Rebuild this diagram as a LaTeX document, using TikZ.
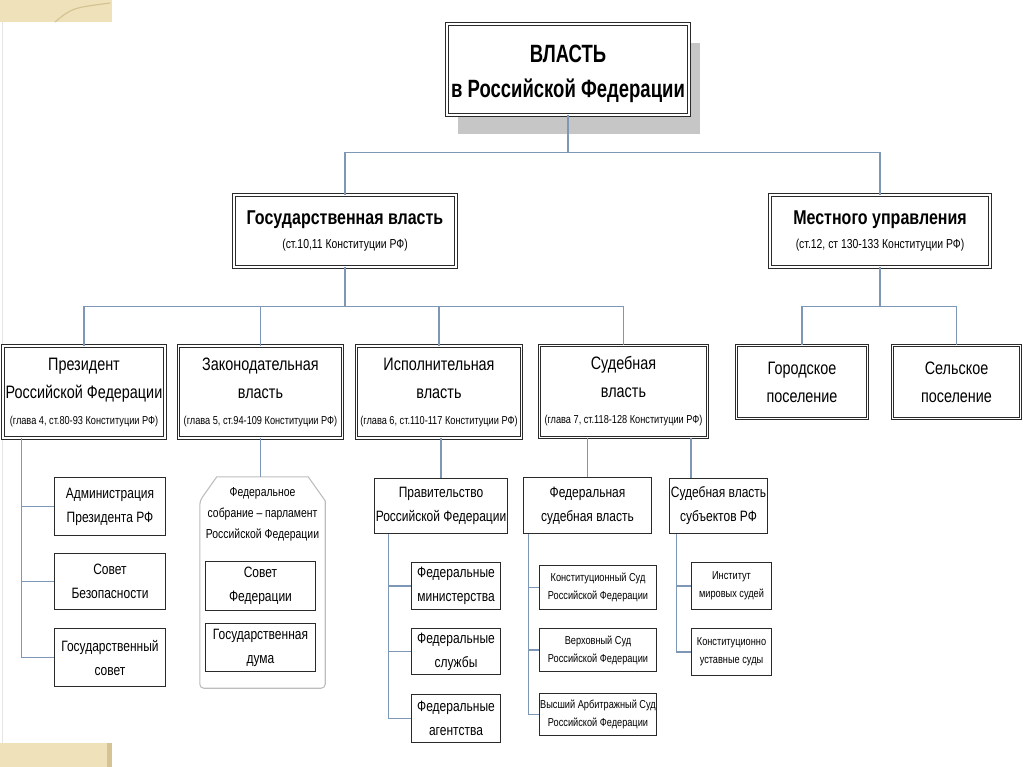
\documentclass[tikz,border=0pt]{standalone}
\usepackage{fontspec}
\setmainfont{Liberation Sans}[FakeStretch=0.8]
\newfontfamily\narrowfont{Liberation Sans}[FakeStretch=0.74]
\usetikzlibrary{calc,shadows}
\definecolor{linkcol}{HTML}{7F97B6}
\definecolor{boxcol}{HTML}{2A2A2A}
\definecolor{shadowcol}{HTML}{C6C6C6}
\definecolor{fedcol}{HTML}{BDBDBD}
\definecolor{beige}{HTML}{EFE2BA}
\definecolor{beigedark}{HTML}{D6C393}
\newcommand{\artref}[1]{{\fontsize{11.5}{13}\selectfont\mdseries #1}}
\newcommand{\bigartref}[1]{{\fontsize{13}{15}\selectfont\mdseries #1}}
\tikzset{
	link/.style={draw=linkcol, line width=1.1pt},
	dbox/.style={draw=boxcol, line width=0.9pt, double=white, double distance=1.6pt, fill=white, inner sep=0pt, align=center},
	sbox/.style={draw=boxcol, line width=1.1pt, fill=white, inner sep=0pt, align=center},
	topfont/.style={font=\narrowfont\fontsize{25}{35}\selectfont\bfseries},
	headfont/.style={font=\fontsize{20}{27}\selectfont\bfseries},
	midfont/.style={font=\fontsize{18}{28}\selectfont},
	lowfont/.style={font=\fontsize{15}{24}\selectfont},
	tinyfont/.style={font=\fontsize{11.5}{18}\selectfont},
}
\begin{document}
\begin{tikzpicture}[x=1pt,y=-1pt]
	\useasboundingbox (0,0) rectangle (1024,767);
	
	%CORNERS
	\fill[beige] (0,0) rectangle (112,22);
	\draw[beigedark, line width=1.2pt] (55,22) .. controls (72,8) .. (110,3);
	\fill[beige] (0,743) rectangle (112,767);
	\fill[beigedark] (107,743) rectangle (112,767);
	\draw[gray!20] (2,22)--(2,743);
	
	%TOP
	\node[dbox, topfont, minimum width=242, minimum height=91,
		drop shadow={shadow xshift=11pt, shadow yshift=-19pt, fill=shadowcol, opacity=1}]
		(top) at (568,69.5) {\rule{0pt}{27pt}ВЛАСТЬ\\в Российской Федерации};
	
	%LEVEL 2
	\node[dbox, headfont, minimum width=222, minimum height=72] (gos) at (345,231)
		{Государственная власть\\[-3pt]\bigartref{(ст.10,11 Конституции РФ)}};
	\node[dbox, headfont, minimum width=220, minimum height=72] (mest) at (880,231)
		{Местного управления\\[-3pt]\bigartref{(ст.12, ст 130-133 Конституции РФ)}};
	
	%LEVEL 3
	\node[dbox, midfont, minimum width=162, minimum height=92] (pres) at (84,392)
		{Президент\\Российской Федерации\\[-2pt]\artref{(глава 4, ст.80-93 Конституции РФ)}};
	\node[dbox, midfont, minimum width=164, minimum height=92] (zak) at (260.5,392)
		{Законодательная\\власть\\[-2pt]\artref{(глава 5, ст.94-109 Конституции РФ)}};
	\node[dbox, midfont, minimum width=165, minimum height=92] (isp) at (439,392)
		{Исполнительная\\власть\\[-2pt]\artref{(глава 6, ст.110-117 Конституции РФ)}};
	\node[dbox, midfont, minimum width=168, minimum height=92] (sud) at (623.5,391.5)
		{Судебная\\власть\\[-2pt]\artref{(глава 7, ст.118-128 Конституции РФ)}};
	\node[dbox, midfont, minimum width=131, minimum height=73] (gor) at (802,382) {Городское\\поселение};
	\node[dbox, midfont, minimum width=128, minimum height=73] (sel) at (956.5,382) {Сельское\\поселение};
	
	%PRESIDENT
	\node[sbox, lowfont, minimum width=111, minimum height=58] (adm) at (110,506.5) {Администрация\\Президента РФ};
	\node[sbox, lowfont, minimum width=111, minimum height=56] (sov) at (110,581.5) {Совет\\Безопасности};
	\node[sbox, lowfont, minimum width=111, minimum height=58] (gsov) at (110,657.5) {Государственный\\совет};
	
	%FEDERAL ASSEMBLY
	\node[minimum width=125, minimum height=211, inner sep=0pt] (fed) at (262.5,582.5) {};
	\draw[fedcol, line width=1.1pt, rounded corners=4pt]
		($(fed.north west)+(0,24)$) [sharp corners]-- ($(fed.north west)+(17,0)$) -- ($(fed.north east)+(-17,0)$)
		-- ($(fed.north east)+(0,24)$) [rounded corners=4pt]-- (fed.south east) -- (fed.south west) -- cycle;
	\node[font=\fontsize{13}{21}\selectfont, align=center] (fedtxt) at (262.5,514)
		{Федеральное\\собрание – парламент\\Российской Федерации};
	\node[sbox, lowfont, minimum width=110, minimum height=49] (sf) at (260.5,586) {Совет\\Федерации};
	\node[sbox, lowfont, minimum width=110, minimum height=48] (gd) at (260.5,647.5) {Государственная\\дума};
	
	%GOVERNMENT
	\node[sbox, lowfont, minimum width=133, minimum height=55] (prav) at (441,506) {Правительство\\Российской Федерации};
	\node[sbox, lowfont, minimum width=89, minimum height=47] (min) at (456,586) {Федеральные\\министерства};
	\node[sbox, lowfont, minimum width=89, minimum height=46] (slu) at (456,651.5) {Федеральные\\службы};
	\node[sbox, lowfont, minimum width=89, minimum height=48] (agn) at (456,718.5) {Федеральные\\агентства};
	
	%COURTS
	\node[sbox, lowfont, minimum width=128, minimum height=56] (fsud) at (587.5,505.5) {Федеральная\\судебная власть};
	\node[sbox, tinyfont, minimum width=117, minimum height=44] (ks) at (598,587.5) {Конституционный Суд\\Российской Федерации};
	\node[sbox, tinyfont, minimum width=117, minimum height=43] (vs) at (598,650) {Верховный Суд\\Российской Федерации};
	\node[sbox, tinyfont, minimum width=117, minimum height=42] (vas) at (598,714.5) {Высший Арбитражный Суд\\Российской Федерации};
	\node[sbox, lowfont, minimum width=98, minimum height=55] (ssub) at (718.5,506) {Судебная власть\\субъектов РФ};
	\node[sbox, tinyfont, minimum width=80, minimum height=47] (inst) at (731.5,586) {Институт\\мировых судей};
	\node[sbox, tinyfont, minimum width=80, minimum height=47] (ksud) at (731.5,652) {Конституционно\\уставные суды};
	
	%LINKS
	\draw[link] (top.south) -- ++(0,37) coordinate (hub1) -| (gos.north);
	\draw[link] (hub1) -| (mest.north);
	\draw[link] (gos.south) -- ++(0,39) coordinate (hub2) -| (pres.north);
	\foreach \n in {zak,isp,sud} \draw[link] (hub2) -| (\n.north);
	\draw[link] (mest.south) -- ++(0,39) coordinate (hub3) -| (gor.north);
	\draw[link] (hub3) -| (sel.north);
	%
	\draw[link] (zak.south) -- (zak.south |- fed.north);
	\draw[link] (prav.north |- isp.south) -- (prav.north);
	\draw[link] (fsud.north |- sud.south) -- (fsud.north);
	\coordinate (ssubtop) at ($(ssub.north west)+(22,0)$);
	\draw[link] (ssubtop |- sud.south) -- (ssubtop);
	%
	\coordinate (presin) at ($(pres.south west)+(19,0)$);
	\foreach \n in {adm,sov,gsov} \draw[link] (presin) |- (\n.west);
	\coordinate (pravin) at ($(prav.south west)+(14.5,0)$);
	\foreach \n in {min,slu,agn} \draw[link] (pravin) |- (\n.west);
	\coordinate (fsudin) at ($(fsud.south west)+(5.5,0)$);
	\foreach \n in {ks,vs,vas} \draw[link] (fsudin) |- (\n.west);
	\coordinate (ssubin) at ($(ssub.south west)+(7.5,0)$);
	\foreach \n in {inst,ksud} \draw[link] (ssubin) |- (\n.west);
\end{tikzpicture}
\end{document}
